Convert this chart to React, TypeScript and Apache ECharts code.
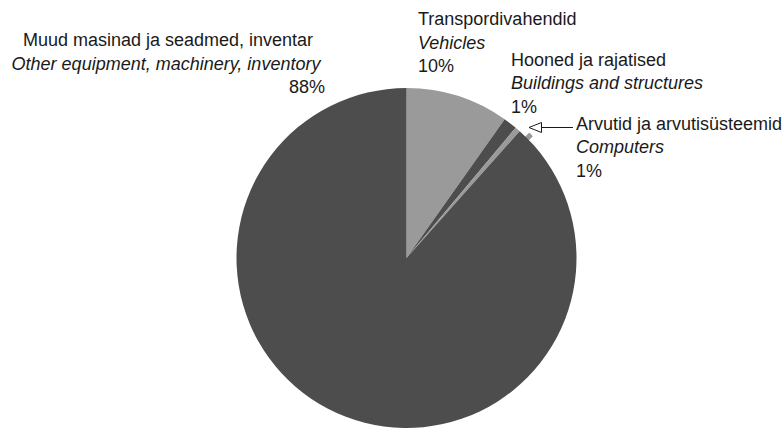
import React, { useEffect, useRef } from "react";
import * as echarts from "echarts";

const categoriesEt = ["Transpordivahendid", "Hooned ja rajatised", "Arvutid ja arvutisüsteemid", "Muud masinad ja seadmed, inventar"];
const categoriesEn = ["Vehicles", "Buildings and structures", "Computers", "Other equipment, machinery, inventory"];
const shares = [9.8, 1.3, 0.5, 88.4];
const sliceColors = ["#9a9a9a", "#4d4d4d", "#9a9a9a", "#4d4d4d"];

// label anchor: x, first baseline, align
const labelPos: [number, number, "left" | "center" | "right"][] = [
  [418, 25.5, "left"],
  [511, 66, "left"],
  [576, 130, "left"],
  [168, 46.5, "center"],
];

export default function App() {
  const ref = useRef<HTMLDivElement>(null);
  useEffect(() => {
    if (!ref.current) return;
    const chart = echarts.init(ref.current, null, { renderer: "svg" });
    const total = shares.reduce((a, b) => a + b, 0);
    const fs = 18;
    const lh = 23.4;
    const mid = 6.2;
    const font = "Liberation Sans, Arial, sans-serif";
    const color = "#1a1a1a";
    const texts: any[] = [];
    categoriesEt.forEach((name, i) => {
      const [x, b, align] = labelPos[i];
      const pct = Math.round((shares[i] / total) * 100) + "%";
      texts.push({
        type: "text", x, y: b - mid,
        style: { text: name, font: `${fs}px ${font}`, fill: color, textAlign: align, textVerticalAlign: "middle" },
      });
      texts.push({
        type: "text", x: align === "center" ? x - 2 : x, y: b + lh - mid,
        style: { text: categoriesEn[i], font: `italic ${fs}px ${font}`, fill: color, textAlign: align, textVerticalAlign: "middle" },
      });
      texts.push({
        type: "text", x: align === "center" ? 325 : x, y: b + 2 * lh - mid,
        style: { text: pct, font: `${fs}px ${font}`, fill: color, textAlign: align === "center" ? "right" : align, textVerticalAlign: "middle" },
      });
    });
    chart.setOption({
      animation: false,
      backgroundColor: "#ffffff",
      series: [
        {
          type: "pie",
          center: [406.5, 258],
          radius: [0, 170],
          startAngle: 90,
          clockwise: true,
          label: { show: false },
          labelLine: { show: false },
          silent: true,
          itemStyle: { borderWidth: 0 },
          data: shares.map((v, i) => ({ value: v, name: categoriesEt[i], itemStyle: { color: sliceColors[i] } })),
        },
      ],
      graphic: [
        ...texts,
        {
          type: "rect", x: 529, y: 136.5, rotation: -Math.PI / 4,
          shape: { x: -2.5, y: -3, width: 5, height: 6 },
          style: { fill: "#9a9a9a" },
        },
        {
          type: "line",
          shape: { x1: 541, y1: 127.5, x2: 573, y2: 127.5 },
          style: { stroke: "#1a1a1a", lineWidth: 1 },
        },
        {
          type: "polygon",
          shape: { points: [[529, 127.5], [541.5, 122.5], [541.5, 132.5]] },
          style: { fill: "#ffffff", stroke: "#1a1a1a", lineWidth: 1 },
        },
      ],
    });
    return () => chart.dispose();
  }, []);
  return <div ref={ref} style={{ position: "fixed", left: 0, top: 0, width: 784, height: 432 }} />;
}
